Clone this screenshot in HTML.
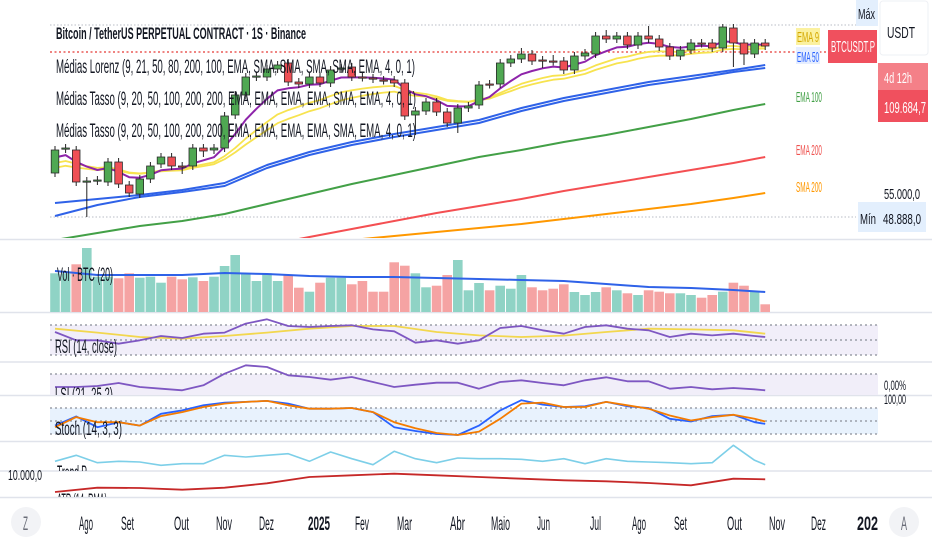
<!DOCTYPE html>
<html><head><meta charset="utf-8">
<style>
html,body{margin:0;padding:0;background:#fff;}
svg{display:block;font-family:"Liberation Sans",sans-serif;}
</style></head>
<body>
<svg id="chart" width="932" height="550" viewBox="0 0 932 550" xmlns="http://www.w3.org/2000/svg">
<defs>
<clipPath id="cMain"><rect x="0" y="0" width="860" height="238"/></clipPath>
<clipPath id="cVol"><rect x="0" y="241" width="860" height="71"/></clipPath>
<clipPath id="cRsi"><rect x="0" y="313" width="860" height="48"/></clipPath>
<clipPath id="cLsi"><rect x="0" y="363" width="880" height="32"/></clipPath>
<clipPath id="cSto"><rect x="0" y="396" width="880" height="45"/></clipPath>
<clipPath id="cTr"><rect x="0" y="442" width="860" height="29"/></clipPath>
<clipPath id="cRed"><rect x="0" y="472" width="860" height="25"/></clipPath>
</defs>
<rect width="932" height="550" fill="#fff"/>
<g stroke="#e0e3eb" stroke-width="1.5">
<line x1="0" y1="239.5" x2="932" y2="239.5"/>
<line x1="0" y1="312.5" x2="932" y2="312.5"/>
<line x1="0" y1="362" x2="932" y2="362"/>
<line x1="0" y1="395.5" x2="932" y2="395.5"/>
<line x1="0" y1="441.5" x2="932" y2="441.5"/>
<line x1="0" y1="471" x2="932" y2="471"/>
<line x1="0" y1="497.5" x2="932" y2="497.5"/>
</g>
<g stroke="#b8bcc6" stroke-dasharray="1.5,2" stroke-width="1">
<line x1="50" y1="25" x2="856" y2="25"/>
<line x1="50" y1="217" x2="856" y2="217"/>
</g>
<line x1="50" y1="52" x2="828" y2="52" stroke="#e53935" stroke-dasharray="2,2.5" stroke-width="1.3"/>
<rect x="50" y="325" width="828" height="30" fill="#f1eef9"/>
<rect x="50" y="374" width="828" height="21" fill="#f1eef9"/>
<rect x="50" y="408" width="828" height="26" fill="#e8f2fd"/>
<g stroke="#8a8e99" stroke-dasharray="2,3" stroke-width="1.2">
<line x1="50" y1="325" x2="878" y2="325"/><line x1="50" y1="340" x2="878" y2="340"/><line x1="50" y1="355" x2="878" y2="355"/>
<line x1="50" y1="374" x2="878" y2="374"/>
<line x1="50" y1="408" x2="878" y2="408"/><line x1="50" y1="421" x2="878" y2="421"/><line x1="50" y1="434" x2="878" y2="434"/>
</g>
<g id="gMain" clip-path="url(#cMain)"></g>
<g id="gVol" clip-path="url(#cVol)"></g>
<g id="gRsi" clip-path="url(#cRsi)"></g>
<g id="gLsi" clip-path="url(#cLsi)"></g>
<g id="gSto" clip-path="url(#cSto)"></g>
<g id="gTr" clip-path="url(#cTr)"></g>
<g id="gRed" clip-path="url(#cRed)"></g>

<g fill="#131722">
<text x="56" y="39" font-size="17" font-weight="bold" textLength="250" lengthAdjust="spacingAndGlyphs">Bitcoin / TetherUS PERPETUAL CONTRACT · 1S · Binance</text>
<text x="56" y="73" font-size="19" textLength="359" lengthAdjust="spacingAndGlyphs">Médias Lorenz (9, 21, 50, 80, 200, 100, EMA, SMA, SMA, SMA, SMA, EMA, 4, 0, 1)</text>
<text x="56" y="105" font-size="19" textLength="360" lengthAdjust="spacingAndGlyphs">Médias Tasso (9, 20, 50, 100, 200, 200, EMA, EMA, EMA, EMA, SMA, EMA, 4, 0, 1)</text>
<text x="56" y="137" font-size="19" textLength="360" lengthAdjust="spacingAndGlyphs">Médias Tasso (9, 20, 50, 100, 200, 200, EMA, EMA, EMA, EMA, SMA, EMA, 4, 0, 1)</text>
<text x="57" y="281" font-size="19" textLength="56" lengthAdjust="spacingAndGlyphs">Vol · BTC (20)</text>
<text x="55" y="353" font-size="19" textLength="62" lengthAdjust="spacingAndGlyphs">RSI (14, close)</text>
<text x="55" y="401" font-size="19" textLength="58" lengthAdjust="spacingAndGlyphs" clip-path="url(#cLsi)">LSI (21, 25,2)</text>
<text x="55" y="435" font-size="19" textLength="67" lengthAdjust="spacingAndGlyphs">Stoch (14, 3, 3)</text>
<text x="57" y="479" font-size="19" textLength="30" lengthAdjust="spacingAndGlyphs" clip-path="url(#cTr)">Trend P</text>
<text x="57" y="507" font-size="19" textLength="50" lengthAdjust="spacingAndGlyphs" clip-path="url(#cRed)">ATR (14, RMA)</text>
<text x="8" y="480" font-size="15" textLength="34" lengthAdjust="spacingAndGlyphs">10.000,0</text>
<text x="884" y="390" font-size="14" textLength="22" lengthAdjust="spacingAndGlyphs">0,00%</text>
<text x="884" y="404" font-size="14" textLength="22" lengthAdjust="spacingAndGlyphs">100,00</text>
</g>

<rect x="796" y="28" width="24" height="17" fill="#fbf1a0"/>
<text x="797" y="42" font-size="15" fill="#d4a800" textLength="22" lengthAdjust="spacingAndGlyphs">EMA 9</text>
<rect x="796" y="47" width="24" height="17" fill="#e6eeff"/>
<text x="797" y="62" font-size="15" fill="#2962ff" textLength="22" lengthAdjust="spacingAndGlyphs">EMA 50</text>
<text x="796" y="102" font-size="15" fill="#43a047" textLength="26" lengthAdjust="spacingAndGlyphs">EMA 100</text>
<text x="796" y="155" font-size="15" fill="#ef5350" textLength="26" lengthAdjust="spacingAndGlyphs">EMA 200</text>
<text x="796" y="192" font-size="15" fill="#ff9800" textLength="26" lengthAdjust="spacingAndGlyphs">SMA 200</text>

<rect x="856" y="0" width="22" height="26" fill="#e3effd"/>
<text x="858" y="19" font-size="15" fill="#131722" textLength="17" lengthAdjust="spacingAndGlyphs">Máx</text>
<rect x="880" y="1" width="48" height="54" rx="3" fill="#fff" stroke="#eef0f4"/>
<text x="887" y="38" font-size="16" fill="#131722" textLength="28" lengthAdjust="spacingAndGlyphs">USDT</text>
<rect x="828" y="30" width="49" height="33" fill="#f0505e"/>
<text x="831" y="52" font-size="16" fill="#fff" textLength="44" lengthAdjust="spacingAndGlyphs">BTCUSDT.P</text>
<rect x="878" y="63" width="50" height="27" fill="#f48088"/>
<text x="884" y="83" font-size="15" fill="#fff" textLength="28" lengthAdjust="spacingAndGlyphs">4d 12h</text>
<rect x="878" y="90" width="50" height="32" fill="#f0505e"/>
<text x="884" y="113" font-size="16" fill="#fff" textLength="42" lengthAdjust="spacingAndGlyphs">109.684,7</text>
<text x="884" y="199" font-size="15" fill="#131722" textLength="36" lengthAdjust="spacingAndGlyphs">55.000,0</text>
<rect x="858" y="202" width="20" height="30" fill="#e3effd"/>
<text x="860" y="224" font-size="15" fill="#131722" textLength="16" lengthAdjust="spacingAndGlyphs">Mín</text>
<rect x="878" y="202" width="48" height="30" fill="#e3effd"/>
<text x="883" y="224" font-size="15" fill="#131722" textLength="38" lengthAdjust="spacingAndGlyphs">48.888,0</text>

<g fill="#131722" font-size="19">
<circle cx="26" cy="522" r="15" fill="#f2f3f6"/>
<circle cx="904" cy="522" r="15" fill="#f2f3f6"/>
<text x="23" y="530" fill="#6a6d78" textLength="5" lengthAdjust="spacingAndGlyphs">Z</text>
<text x="79" y="530" textLength="14" lengthAdjust="spacingAndGlyphs">Ago</text>
<text x="121" y="530" textLength="13" lengthAdjust="spacingAndGlyphs">Set</text>
<text x="174" y="530" textLength="15" lengthAdjust="spacingAndGlyphs">Out</text>
<text x="216" y="530" textLength="16" lengthAdjust="spacingAndGlyphs">Nov</text>
<text x="259" y="530" textLength="15" lengthAdjust="spacingAndGlyphs">Dez</text>
<text x="308" y="530" font-weight="bold" textLength="22" lengthAdjust="spacingAndGlyphs">2025</text>
<text x="355" y="530" textLength="14" lengthAdjust="spacingAndGlyphs">Fev</text>
<text x="397" y="530" textLength="15" lengthAdjust="spacingAndGlyphs">Mar</text>
<text x="450" y="530" textLength="15" lengthAdjust="spacingAndGlyphs">Abr</text>
<text x="491" y="530" textLength="19" lengthAdjust="spacingAndGlyphs">Maio</text>
<text x="537" y="530" textLength="13" lengthAdjust="spacingAndGlyphs">Jun</text>
<text x="590" y="530" textLength="11" lengthAdjust="spacingAndGlyphs">Jul</text>
<text x="632" y="530" textLength="14" lengthAdjust="spacingAndGlyphs">Ago</text>
<text x="674" y="530" textLength="13" lengthAdjust="spacingAndGlyphs">Set</text>
<text x="727" y="530" textLength="15" lengthAdjust="spacingAndGlyphs">Out</text>
<text x="769" y="530" textLength="16" lengthAdjust="spacingAndGlyphs">Nov</text>
<text x="811" y="530" textLength="15" lengthAdjust="spacingAndGlyphs">Dez</text>
<text x="857" y="530" font-weight="bold" textLength="21" lengthAdjust="spacingAndGlyphs">202</text>
<text x="901" y="530" fill="#6a6d78" textLength="6" lengthAdjust="spacingAndGlyphs">A</text>
</g>
</svg>
<script>
// ---- price data (weekly candles) ----
const opens  = [60800,70400,70000,57200,57600,57200,65200,56000,52400,58400,64400,67200,63600,63600,70800,70000,70800,84000,92000,99200,99200,102400,104800,97200,96400,99200,96800,102400,103200,99200,98800,98000,98000,96800,84000,85600,89200,85200,80800,86800,88000,96400,96400,104800,106400,108400,106000,105600,105600,102000,107600,108400,115600,114400,115600,112000,115600,114400,111200,107600,110000,112800,112800,110800,118800,112800,108400,112800];
const closes = [70000,70800,57200,57600,58000,65200,56400,52800,58400,63600,67200,63600,63400,70800,69600,70800,83600,92000,99200,99600,102400,104000,97200,96400,99200,96800,102000,102800,99200,99000,98400,97800,96800,83600,85600,89200,85200,80800,86800,87600,96000,96200,104800,106400,108400,105600,105800,105400,102000,107600,108800,115600,114400,115600,112000,115600,114400,111200,107600,110000,112800,112600,110800,119200,112800,108400,112800,111600];
const highs  = [71600,72400,71600,59200,59600,66800,66800,57600,60000,65200,68800,68800,65200,72400,72400,72400,85200,93600,100800,101200,104000,105600,106400,98800,100800,100800,103600,104400,104800,100800,100400,99600,99600,98400,87200,90800,90800,86800,88400,89200,97600,98000,106400,108000,110800,110000,107600,108000,107200,109200,110400,117200,118000,117200,117200,117200,119600,116000,112800,111600,114400,114400,114400,120400,120400,114400,114400,114400];
const lows   = [59200,68800,55600,43200,56000,55600,54800,51200,50800,56800,62800,62000,60400,62000,67200,68400,69200,82400,90400,97600,97600,100800,95600,94800,94800,95200,95200,100800,97600,97400,96800,96200,95200,82000,76000,84000,83600,79200,76800,85200,86400,94600,94800,103200,104800,104000,102800,103800,100400,100400,106000,106800,112800,112800,110400,110400,112800,109600,106000,106000,108400,111000,109200,109200,103200,104000,106800,110000];
const volumes = [387,387,477,640,353,353,337,387,343,353,293,353,327,347,310,353,460,570,387,310,387,310,370,243,203,293,343,343,277,310,203,203,497,463,387,247,263,370,520,217,290,217,263,233,370,247,217,233,277,200,170,200,247,217,187,170,217,203,187,187,170,143,170,203,293,263,203,77];
const maIdx = [0,4,8,12,16,20,24,28,32,36,40,44,48,52,56,60,64,67];
const ema50a = [48800,50400,52000,54000,56800,64000,69200,73200,76400,79200,82000,86800,90800,94000,97200,99600,102000,104000];
const ema50b = [43600,48000,51200,53200,55600,62800,68000,72000,75200,78000,80800,85600,89600,92800,96000,98400,101200,102800];
const ema100 = [34000,36800,39600,41600,44400,48400,52400,56400,60000,63600,67200,70000,73200,76000,79200,82400,86000,88400];
const ema200 = [14000,18000,22000,25200,28800,32000,35200,38400,41600,44800,47600,50400,53600,56400,59200,62000,64800,67200];
const sma200 = [22000,24000,26000,28000,29600,31200,32400,34000,35600,37200,38800,40400,42400,44400,46400,48400,50800,52800];
const volMA  = [410,370,370,370,390,380,360,350,350,340,330,320,310,280,250,240,220,200];
const oscIdx = [0,2,4,6,8,10,12,14,16,18,20,22,24,26,28,30,32,34,36,38,40,42,44,46,48,50,52,54,56,58,60,62,64,66,67];
const rsi   = [60.7,49.6,49.6,45.1,49.6,55.3,52.7,58.4,59.8,71.8,77.6,68.7,67.3,68.7,69.6,64.2,61.6,46.4,49.6,45.1,49.6,66.0,68.7,62.9,58.4,67.3,69.6,65.1,62.9,54.0,58.4,56.2,58.4,55.3,54.0];
const rsiMA = [65.1,59.8,54.0,51.8,55.3,59.8,65.1,68.7,68.7,60.7,56.2,54.0,55.8,60.7,65.1,64.2,62.9,58.4];
const lsi   = [25,25,28,37,25,20,15,30,65,90,85,60,55,47,55,40,25,32,38,38,20,40,45,37,30,45,54,42,42,20,25,18,22,18,15];
const stochK = [39.5,60.5,35.6,47.3,39.5,66.7,74.5,86.2,92.4,94.0,96.3,90.1,78.4,78.4,80.0,70.6,35.6,27.0,20.0,17.7,39.5,74.5,97.9,87.8,82.3,83.9,94.0,83.9,80.0,55.1,48.8,61.3,64.4,47.3,43.4];
const stochD = [35.6,59.0,47.3,47.3,39.5,61.3,70.6,82.3,90.1,94.0,96.3,86.2,78.4,78.4,80.0,70.6,47.3,33.2,22.3,17.7,25.5,55.1,90.1,92.4,82.3,82.3,94.0,86.2,78.4,62.8,51.2,59.0,64.4,55.1,48.8];
const trendP = [52,70,48,52,50,40,45,45,70,65,70,75,52,80,60,42,82,60,48,62,60,60,58,52,60,45,60,52,50,48,45,48,100,55,42];
const atr = [60,73,72,67,73,86,105,110,115,110,105,100,95,92,87,80,100,98];

const xOf = i => 55 + i * 10.6;
const yPrice = p => (130000 - p) / 400;
const yVol = v => 312 - v / 10;
const yRsi = v => 340 - (v - 50) * 0.75;
const yLsi = v => 312 + (250 - v) / 3;
const ySto = v => 434 - (v - 20) * 26 / 60;
const yTr = v => 312 + (500 - v) / 3;
const yAtr = v => 312 + (600 - v) / 3;
const NS = 'http://www.w3.org/2000/svg';

function mk(tag, parent, attrs) {
  const el = document.createElementNS(NS, tag);
  for (const k in attrs) el.setAttribute(k, attrs[k]);
  parent.appendChild(el);
  return el;
}
function line(parent, idx, vals, yf, color, w) {
  const d = vals.map((v, k) => (k ? 'L' : 'M') + xOf(idx[k]).toFixed(1) + ',' + yf(v).toFixed(1)).join('');
  return mk('path', parent, {d: d, fill: 'none', stroke: color, 'stroke-width': w, 'stroke-linejoin': 'round'});
}
function ema(vals, period, seed) {
  const a = 2 / (period + 1); let e = seed; const out = [];
  vals.forEach(v => { e = e + a * (v - e); out.push(e); });
  return out;
}
const allIdx = closes.map((c, i) => i);
const gMain = document.getElementById('gMain');

let el;
el = line(gMain, maIdx, sma200, yPrice, '#ff9800', 2);


el = line(gMain, maIdx, ema200, yPrice, '#f44f52', 2);


el = line(gMain, maIdx, ema100, yPrice, '#43a047', 2);


el = line(gMain, maIdx, ema50b, yPrice, '#2f62e8', 2);


el = line(gMain, maIdx, ema50a, yPrice, '#2f62e8', 2);


el = line(gMain, allIdx, ema(closes, 18, 62000), yPrice, '#f7e34f', 1.8);


el = line(gMain, allIdx, ema(closes, 14, 64000), yPrice, '#f7e34f', 1.8);


el = line(gMain, allIdx, ema(closes, 7, 66000), yPrice, '#8e24aa', 2);



closes.forEach((c, i) => {
  const o = opens[i], x = xOf(i), up = c >= o;
  const g = mk('g', gMain, {});
  
  
  mk('line', g, {x1: x, x2: x, y1: yPrice(highs[i]), y2: yPrice(lows[i]), stroke: '#222', 'stroke-width': 1});
  const top = yPrice(Math.max(o, c)), bot = yPrice(Math.min(o, c));
  mk('rect', g, {x: x - 3.8, y: top, width: 7.6, height: Math.max(1.2, bot - top), fill: up ? '#4fa852' : '#ef4f55', stroke: '#2a2a2a', 'stroke-width': 0.8});
});

const gVol = document.getElementById('gVol');
volumes.forEach((v, i) => {
  const up = closes[i] >= opens[i];
  const r = mk('rect', gVol, {x: xOf(i) - 4.8, y: yVol(v), width: 9.6, height: 312 - yVol(v), fill: up ? '#8fd3c5' : '#f5a3a3'});
  
  
});
el = line(gVol, maIdx, volMA, yVol, '#2f62e8', 2);



const gRsi = document.getElementById('gRsi');
el = line(gRsi, maIdx, rsiMA, yRsi, '#f2d74e', 1.8);


el = line(gRsi, oscIdx, rsi, yRsi, '#7e57c2', 1.8);



el = line(document.getElementById('gLsi'), oscIdx, lsi, yLsi, '#7e57c2', 1.8);



const gSto = document.getElementById('gSto');
el = line(gSto, oscIdx, stochK, ySto, '#2962ff', 1.8);


el = line(gSto, oscIdx, stochD, ySto, '#f57c00', 1.8);



el = line(document.getElementById('gTr'), oscIdx, trendP, yTr, '#7dcfe8', 1.6);



el = line(document.getElementById('gRed'), maIdx, atr, yAtr, '#c62828', 1.8);


</script>
</body></html>
